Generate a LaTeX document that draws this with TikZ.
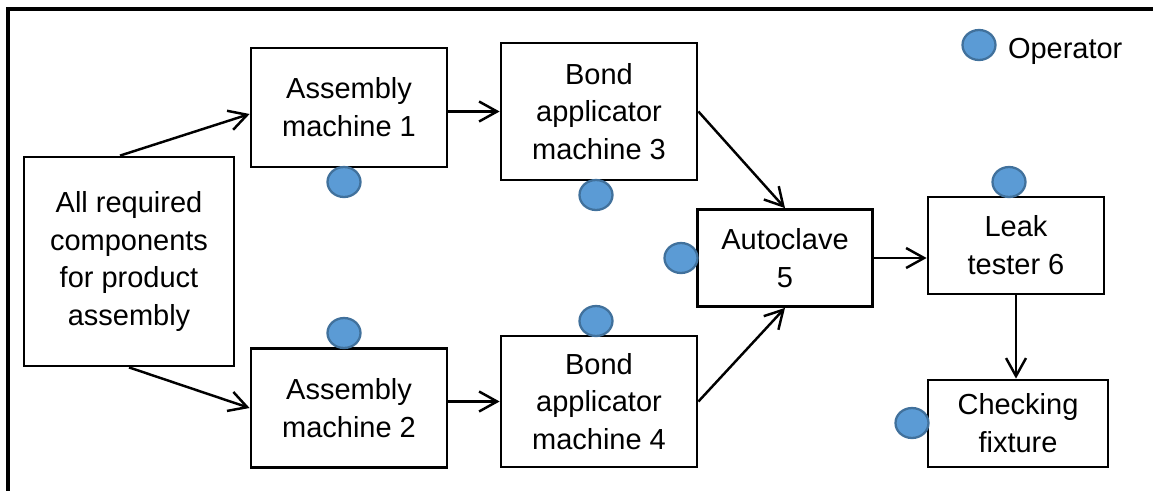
\documentclass[tikz,border=0pt]{standalone}
\usepackage{fontspec}
\setmainfont{Liberation Sans}
\usetikzlibrary{arrows.meta,shapes.geometric}

\definecolor{opfill}{HTML}{5B9BD5}
\definecolor{opline}{HTML}{41719C}

\tikzset{
  box/.style={draw,line width=1.6pt,align=center,inner sep=0pt,
    font=\fontsize{16.5}{21.5}\selectfont},
  opr/.style={ellipse,draw=opline,fill=opfill,line width=1.3pt,
    minimum width=0.66cm,minimum height=0.6cm,inner sep=0pt},
  flow/.style={line width=1.4pt,-{Straight Barb[length=3.6mm,width=4mm]}},
}

\begin{document}
\begin{tikzpicture}[x=0.02cm,y=-0.02cm]
\useasboundingbox (0,0) rectangle (1153,491);

% frame (only the top and left edges show)
\draw[line width=1.8pt] (1153,9) -- (8,9) -- (8,491);

%=== Stations ===
\node[box,minimum width=4.2cm,minimum height=4.18cm] (req) at (129,261.5)
  {All required\\components\\for product\\assembly};
\node[box,minimum width=3.92cm,minimum height=2.38cm] (a1) at (349,107.5)
  {Assembly\\machine 1};
\node[box,minimum width=3.92cm,minimum height=2.38cm] (a2) at (349,408)
  {Assembly\\machine 2};
\node[box,minimum width=3.92cm,minimum height=2.74cm] (b3) at (599,111.5)
  {Bond\\applicator\\machine 3};
\node[box,minimum width=3.92cm,minimum height=2.62cm] (b4) at (599,401.5)
  {Bond\\applicator\\machine 4};
\node[box,minimum width=3.5cm,minimum height=1.94cm] (ac) at (785,258)
  {Autoclave\\5};
\node[box,minimum width=3.52cm,minimum height=1.94cm] (lt) at (1016,245.5)
  {Leak\\tester 6};
\node[box,minimum width=3.6cm,minimum height=1.74cm] (ck) at (1018,423.5)
  {Checking\\fixture};

%=== Operators ===
\node[opr] (o1) at (344,182) {};
\node[opr] (o2) at (344,333) {};
\node[opr] (o3) at (596,195) {};
\node[opr] (o4) at (596,321) {};
\node[opr] (o5) at (681,258) {};
\node[opr] (o6) at (1009,182) {};
\node[opr] (o7) at (912,423) {};

% legend
\node[opr] (leg) at (979,45) {};
\node[anchor=base west,inner sep=0pt,font=\fontsize{16.5}{21.5}\selectfont]
  (legtxt) at ([xshift=0.22cm,yshift=-0.26cm]leg.east) {Operator};

%=== Flow ===
\draw[flow] ([xshift=-0.18cm]req.north) -- ([yshift=-0.13cm]a1.west);
\draw[flow] (req.south) -- (a2.west);
\draw[flow] (a1.east |- b3.west) -- (b3.west);
\draw[flow] (a2.east |- b4.west) -- (b4.west);
\draw[flow] (b3.east) -- (ac.north);
\draw[flow] (b4.east) -- (ac.south);
\draw[flow] (ac.east) -- (ac.east -| lt.west);
\draw[flow] (lt.south) -- (lt.south |- ck.north);

\end{tikzpicture}
\end{document}
